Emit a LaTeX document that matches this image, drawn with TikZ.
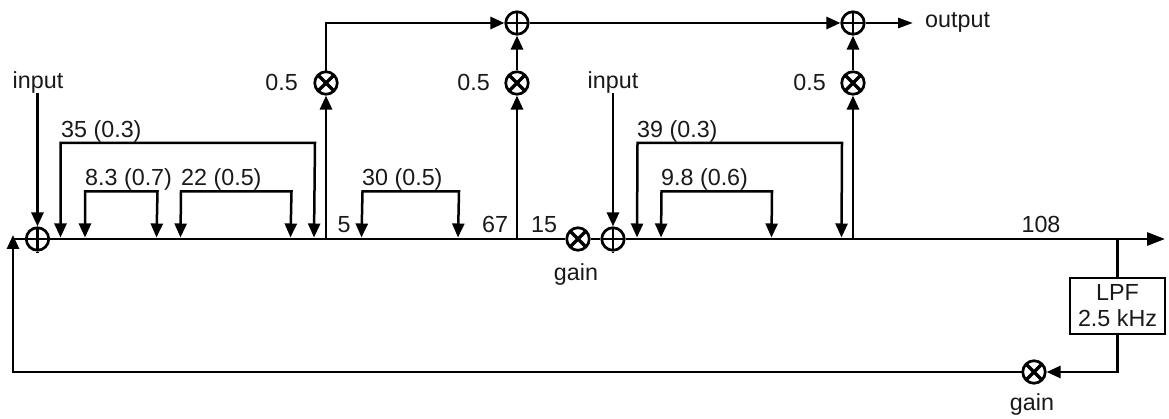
\documentclass[tikz,border=0pt]{standalone}
\usepackage{fontspec}
\setmainfont{Liberation Sans}
\usetikzlibrary{arrows.meta}
\tikzset{
  wire/.style={line width=2.8pt},
  arr/.style={wire,-{Triangle[length=14pt,width=12pt]}},
  arrbig/.style={wire,-{Triangle[length=18pt,width=13pt]}},
  arrmid/.style={wire,-{Triangle[length=15pt,width=10pt]}},
  tapdown/.style={line width=2.5pt,{Triangle[length=14pt,width=12pt]}-{Triangle[length=14pt,width=12pt]}},
  lab/.style={inner sep=0pt,font=\fontsize{23.3}{26}\selectfont,text=black!90},
  sumnode/.style={circle,draw,line width=2.7pt,minimum size=22.5pt,inner sep=0pt,
    path picture={\draw[line width=2.4pt] (path picture bounding box.north)--(path picture bounding box.south)
      (path picture bounding box.west)--(path picture bounding box.east);}},
  mulnode/.style={circle,draw,line width=2.7pt,minimum size=22.5pt,inner sep=0pt,
    path picture={\draw[line width=3.4pt] (path picture bounding box.north west)--(path picture bounding box.south east)
      (path picture bounding box.north east)--(path picture bounding box.south west);}},
  boxnode/.style={draw,line width=2.7pt,inner sep=0pt,minimum width=95pt,minimum height=56pt,align=center,
    font=\fontsize{23.3}{26}\selectfont,text=black!90},
}
\begin{document}
\begin{tikzpicture}[x=1pt,y=-1pt]
\useasboundingbox (0,0) rectangle (1169,419);
% operators
\node[sumnode] (s1) at (37.5,239) {};
\node[sumnode] (s2) at (613,239) {};
\node[sumnode] (s3) at (517,23) {};
\node[sumnode] (s4) at (853,23) {};
\node[mulnode] (m1) at (326,83) {};
\node[mulnode] (m2) at (517,83) {};
\node[mulnode] (m3) at (853,83) {};
\node[mulnode] (m4) at (578,239) {};
\node[mulnode] (m5) at (1034,372) {};
\node[boxnode] (lpf) at (1117.5,306) {LPF\\2.5 kHz};
% labels
\node[lab,anchor=base] (inA) at (38,89) {input};
\node[lab,anchor=base] (inB) at (613,89) {input};
\node[lab,anchor=base west] (out) at (925,28) {output};
\node[lab,anchor=base east] (h1) at (298,91) {0.5};
\node[lab,anchor=base east] (h2) at (490,91) {0.5};
\node[lab,anchor=base east] (h3) at (826,91) {0.5};
\node[lab,anchor=base west] (t1) at (61,137.5) {35 (0.3)};
\node[lab,anchor=base west] (t2) at (85,185.5) {8.3 (0.7)};
\node[lab,anchor=base west] (t3) at (181,185.5) {22 (0.5)};
\node[lab,anchor=base west] (t4) at (362,185.5) {30 (0.5)};
\node[lab,anchor=base west] (t5) at (637,137.5) {39 (0.3)};
\node[lab,anchor=base west] (t6) at (661,185.5) {9.8 (0.6)};
\node[lab,anchor=base] (n1) at (344,233) {5};
\node[lab,anchor=base] (n2) at (495,233) {67};
\node[lab,anchor=base] (n3) at (544,233) {15};
\node[lab,anchor=base] (n4) at (1041,233) {108};
\node[lab,anchor=base] (g1) at (576,281) {gain};
\node[lab,anchor=base] (g2) at (1032,410) {gain};
% named points
\coordinate (fbL) at (13,239);
\coordinate (fbB) at (13,372);
\coordinate (end) at (1165,239);
\coordinate (b1) at (326,239);
\coordinate (b2) at (517,239);
\coordinate (b3) at (853,239);
\coordinate (b4) at (1117.5,239);
\coordinate (c1) at (1117.5,372);
\coordinate (c2) at (326,23);
\coordinate (outEnd) at (913,23);
\coordinate (inAs) at (37.5,93);
\coordinate (inBs) at (613,93);
\coordinate (s1t) at (37.5,252);
\coordinate (s2t) at (613,252);
% main line
\draw[wire] (s1.east) -- (m4.west);
\draw[wire] (m4.east) -- (s2.west);
\draw[arrbig] (s2.east) -- (end);
\draw[wire] (s1.west) -- (fbL);
\draw[wire] (s1.south) -- (s1t);
\draw[wire] (s2.south) -- (s2t);
\draw[arr] (fbB) -- ([yshift=4pt]fbL);
\draw[wire,line cap=rect] (m5.west) -- (fbB);
\draw[wire] (b4) -- (lpf.north);
\draw[wire] (lpf.south) -- (c1);
\draw[arr,line cap=rect] (c1) -- (m5.east);
% inputs
\draw[arr] (inAs) -- (s1.north);
\draw[arr] (inBs) -- (s2.north);
% output paths
\draw[arr] (b1) -- (m1.south);
\draw[arr] (b2) -- (m2.south);
\draw[arr] (b3) -- (m3.south);
\draw[arr] (m2.north) -- (s3.south);
\draw[arr] (m3.north) -- (s4.south);
\draw[wire,line cap=rect] (m1.north) -- (c2);
\draw[arr] (c2) -- (s3.west);
\draw[arr] (s3.east) -- (s4.west);
\draw[arrmid] (s4.east) -- (outEnd);
% taps
\coordinate (a1) at (60.5,143); \coordinate (a1e) at (60.5,237.5);
\coordinate (a2) at (315,143);  \coordinate (a2e) at (314,237.5);
\coordinate (a3) at (85,191.5); \coordinate (a3e) at (85,237.5);
\coordinate (a4) at (157.5,191.5); \coordinate (a4e) at (156.5,237.5);
\coordinate (a5) at (181,191.5); \coordinate (a5e) at (180.5,237.5);
\coordinate (a6) at (291.5,191.5); \coordinate (a6e) at (290.5,237.5);
\coordinate (a7) at (362.5,191.5); \coordinate (a7e) at (361.5,237.5);
\coordinate (a8) at (459,191.5); \coordinate (a8e) at (458,237.5);
\coordinate (a9) at (637.5,143); \coordinate (a9e) at (637,237.5);
\coordinate (a10) at (842,143); \coordinate (a10e) at (841.5,237.5);
\coordinate (a11) at (661.5,191.5); \coordinate (a11e) at (661,237.5);
\coordinate (a12) at (772,191.5); \coordinate (a12e) at (771.5,237.5);
\draw[tapdown] (a1e) -- (a1) -- (a2) -- (a2e);
\draw[tapdown] (a3e) -- (a3) -- (a4) -- (a4e);
\draw[tapdown] (a5e) -- (a5) -- (a6) -- (a6e);
\draw[tapdown] (a7e) -- (a7) -- (a8) -- (a8e);
\draw[tapdown] (a9e) -- (a9) -- (a10) -- (a10e);
\draw[tapdown] (a11e) -- (a11) -- (a12) -- (a12e);
\end{tikzpicture}
\end{document}
